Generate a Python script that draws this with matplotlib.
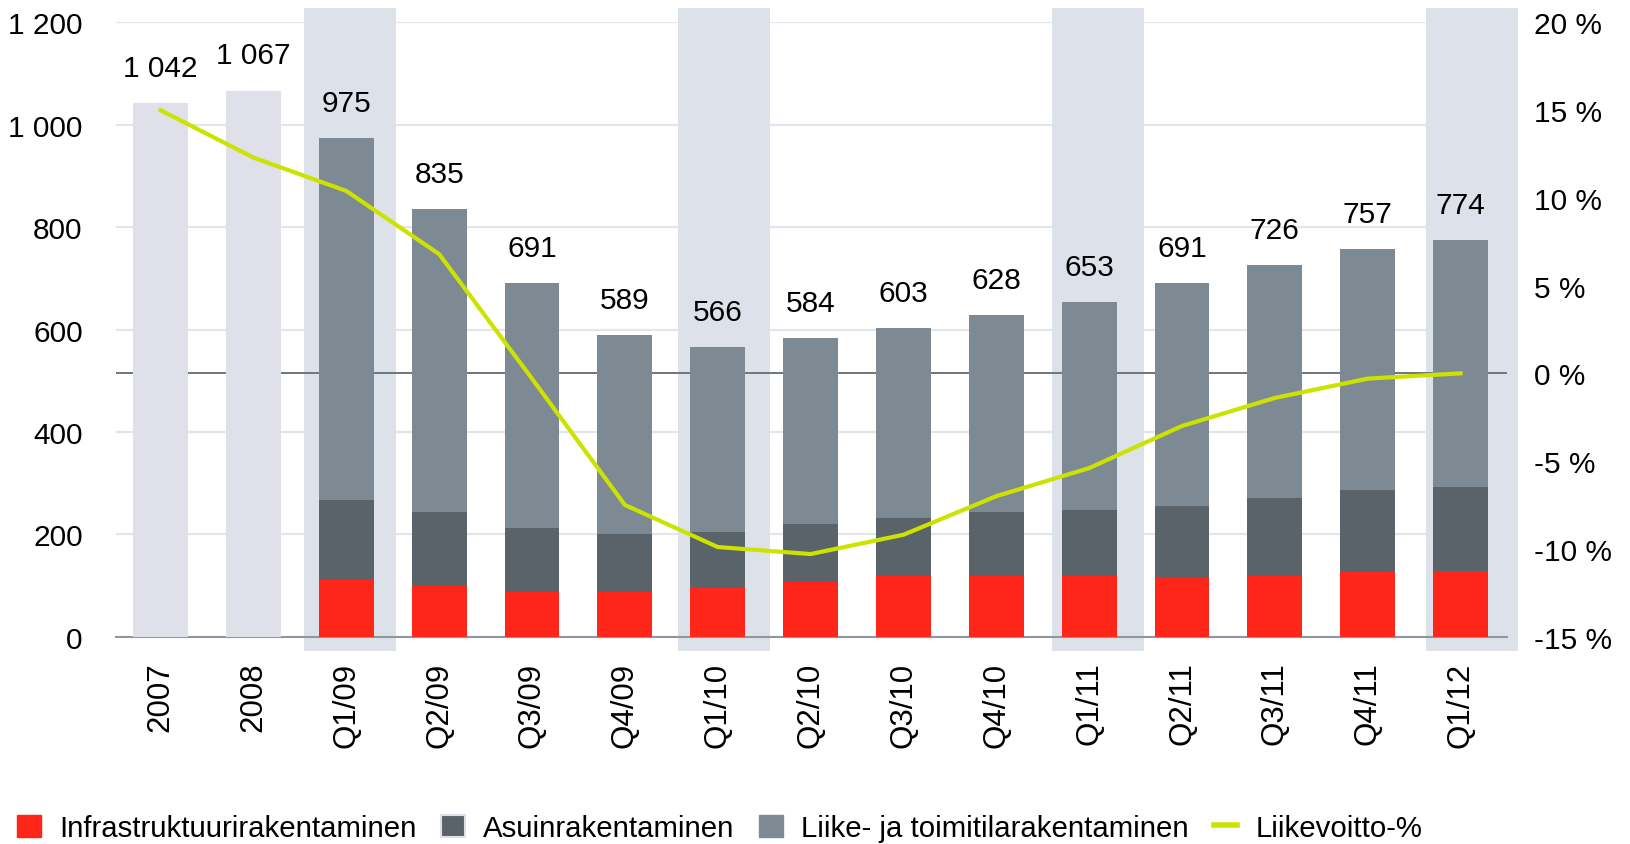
import numpy as np
import matplotlib
matplotlib.use("agg")
import matplotlib.pyplot as plt
from matplotlib.patches import Patch
from matplotlib.lines import Line2D

plt.rcParams['font.family'] = ['Liberation Sans', 'DejaVu Sans']

## data
periods = ["2007", "2008", "Q1/09", "Q2/09", "Q3/09", "Q4/09", "Q1/10", "Q2/10",
           "Q3/10", "Q4/10", "Q1/11", "Q2/11", "Q3/11", "Q4/11", "Q1/12"]
year_totals = [1042, 1067]          # 2007, 2008 (no split)
totals = [975, 835, 691, 589, 566, 584, 603, 628, 653, 691, 726, 757, 774]
infra = [110, 98, 87, 87, 94, 106, 118, 118, 118, 114, 118, 126, 128]
asuin = [157, 146, 126, 114, 110, 114, 113, 125, 129, 141, 152, 160, 165]
liikevoitto = [15.0, 12.3, 10.4, 6.8, -0.3, -7.5, -9.9, -10.3, -9.2, -7.0,
               -5.4, -3.0, -1.4, -0.3, 0.0]
q1_periods = ["Q1/09", "Q1/10", "Q1/11", "Q1/12"]

labels = ["Infrastruktuurirakentaminen", "Asuinrakentaminen",
          "Liike- ja toimitilarakentaminen", "Liikevoitto-%"]

red = '#fe2619'
dark = '#5b636a'
grey = '#7e8a93'
lav = '#dfe0ea'
band = '#dde2ea'
lime = '#cce300'
fs = 21.5

infra = np.array(infra)
asuin = np.array(asuin)
liike = np.array(totals) - infra - asuin

fig = plt.figure(figsize=(16.31, 8.45), dpi=100)
ax = fig.add_axes([0.0711, 0.24556, 0.8529, 0.72663])
ax.set_xlim(-0.48, 14.5)
ax.set_ylim(0, 1200)

x = np.arange(len(periods))
xq = x[2:]
w = 0.59

# grid
for v in range(200, 1201, 200):
    ax.axhline(v, color='#e4e4ec', lw=1.5, zorder=0)

# Q1 background bands
for k, p in enumerate(q1_periods):
    i = periods.index(p)
    ax.bar(i + 0.04 + 0.027 * k, 1256, bottom=-28, width=0.985, color=band,
           zorder=1, clip_on=False)

# zero line of the right axis, drawn on the left axis
zero_y = np.interp(0, [-15, 20], [0, 1200])
ax.axhline(zero_y, color='#6e757c', lw=1.4, zorder=2)

ax.bar(x[:2], year_totals, width=w, color=lav, zorder=3)
ax.bar(xq, infra, width=w, color=red, zorder=3)
ax.bar(xq, asuin, bottom=infra, width=w, color=dark, zorder=3)
ax.bar(xq, liike, bottom=infra + asuin, width=w, color=grey, zorder=3)

all_totals = list(year_totals) + list(totals)
for i, t in enumerate(all_totals):
    ax.annotate(f"{t:,}".replace(",", " "), (i, t), xytext=(0, 19.5),
                textcoords='offset points', ha='center', va='baseline',
                fontsize=fs, zorder=5)

ax.set_xticks(x)
ax.set_xticklabels(periods, rotation=90, fontsize=22.5, va='top')
ax.set_yticks(range(0, 1201, 200))
ax.set_yticklabels([f"{v:,}".replace(",", " ") for v in range(0, 1201, 200)],
                   fontsize=fs)
ax.tick_params(axis='x', length=0, pad=18)
ax.tick_params(axis='y', length=0, pad=24)
for s in ['top', 'left', 'right']:
    ax.spines[s].set_visible(False)
ax.spines['bottom'].set_color('#8e979f')
ax.spines['bottom'].set_linewidth(1.5)
ax.spines['bottom'].set_zorder(2.5)

ax2 = ax.twinx()
ax2.set_ylim(-15, 20)
ax2.plot(x, liikevoitto, color=lime, lw=3, solid_joinstyle='miter', zorder=4)
ax2.set_yticks(range(-15, 21, 5))
ax2.set_yticklabels([f"{v} %" for v in range(-15, 21, 5)], fontsize=fs)
ax2.tick_params(axis='y', length=0, pad=19.5)
for s in ax2.spines.values():
    s.set_visible(False)

handles = [Patch(color=red), Patch(facecolor=dark, edgecolor=lav, lw=1.5),
           Patch(color=grey), Line2D([], [], color=lime, lw=4)]
fig.legend(handles, labels, loc='center left', bbox_to_anchor=(17 / 1631, 1 - 829 / 845),
           ncol=4, frameon=False, fontsize=21.2, handlelength=0.8, handleheight=0.78,
           handletextpad=0.62, columnspacing=0.85, borderpad=0, borderaxespad=0)

fig.savefig("out.png", dpi=100)
